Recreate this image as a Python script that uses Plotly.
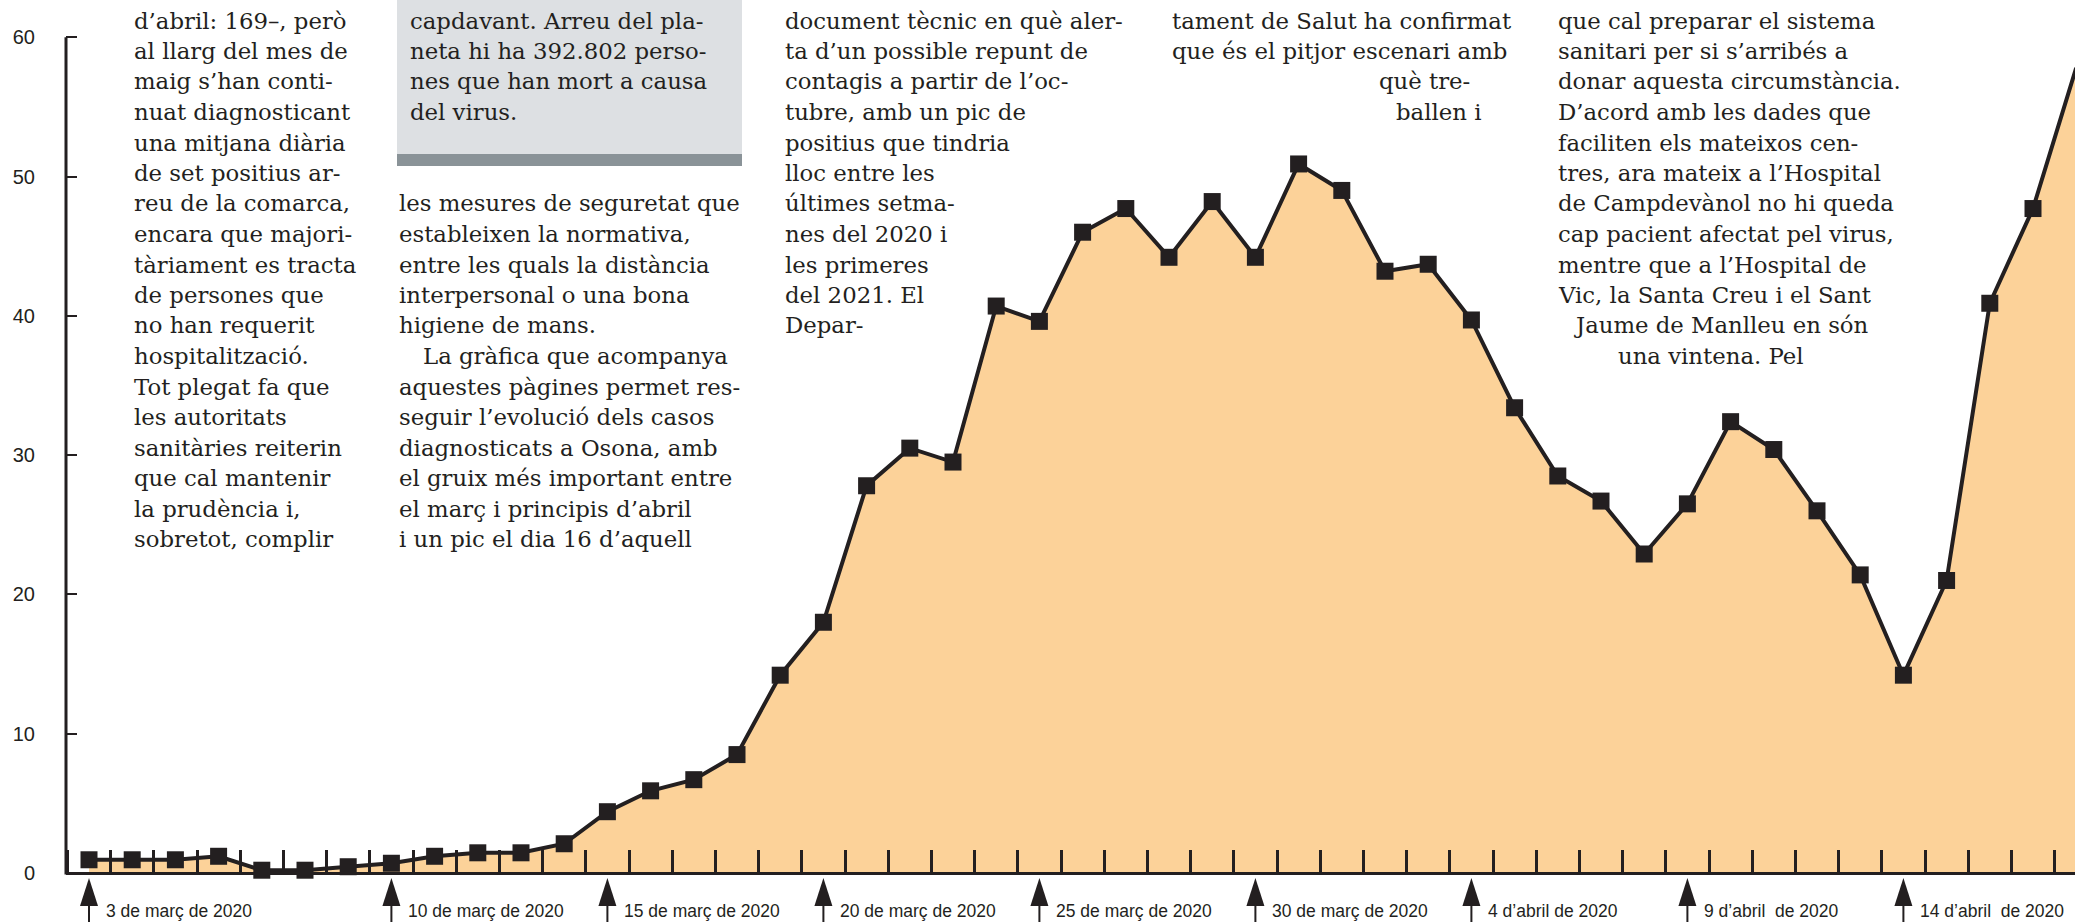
import plotly.graph_objects as go

# ---------------- data ----------------
dates = ["3 març", "4 març", "5 març", "6 març", "7 març", "8 març", "9 març", "10 març",
         "11 març", "12 març", "13 març", "14 març", "15 març", "16 març", "17 març", "18 març",
         "19 març", "20 març", "21 març", "22 març", "23 març", "24 març", "25 març", "26 març",
         "27 març", "28 març", "29 març", "30 març", "31 març", "1 abril", "2 abril", "3 abril",
         "4 abril", "5 abril", "6 abril", "7 abril", "8 abril", "9 abril", "10 abril", "11 abril",
         "12 abril", "13 abril", "14 abril", "15 abril", "16 abril", "17 abril", "18 abril"]
cases = [0.95, 0.95, 0.95, 1.2, 0.2, 0.2, 0.45, 0.7, 1.2, 1.45, 1.45, 2.1,
         4.4, 5.9, 6.7, 8.5, 14.2, 18.0, 27.8, 30.5, 29.5, 40.7, 39.6, 46.0,
         47.7, 44.2, 48.2, 44.2, 50.9, 49.0, 43.2, 43.7, 39.7, 33.4, 28.5, 26.7,
         22.9, 26.5, 32.4, 30.4, 26.0, 21.4, 14.2, 21.0, 40.9, 47.7, 57.8]
label_idx = [0, 7, 12, 17, 22, 27, 32, 37, 42]
label_text = ["3 de març de 2020", "10 de març de 2020", "15 de març de 2020",
              "20 de març de 2020", "25 de març de 2020", "30 de març de 2020",
              "4 d\u2019abril de 2020", "9 d\u2019abril&nbsp; de 2020", "14 d\u2019abril&nbsp; de 2020"]
y_ticks = [0, 10, 20, 30, 40, 50, 60]

col1 = ["d\u2019abril: 169\u2013, però", "al llarg del mes de", "maig s\u2019han conti-",
        "nuat diagnosticant", "una mitjana diària", "de set positius ar-",
        "reu de la comarca,", "encara que majori-", "tàriament es tracta",
        "de persones que", "no han requerit", "hospitalització.", "Tot plegat fa que",
        "les autoritats", "sanitàries reiterin", "que cal mantenir", "la prudència i,",
        "sobretot, complir"]
box_lines = ["capdavant. Arreu del pla-", "neta hi ha 392.802 perso-",
             "nes que han mort a causa", "del virus."]
col2 = ["les mesures de seguretat que", "estableixen la normativa,",
        "entre les quals la distància", "interpersonal o una bona", "higiene de mans.",
        "La gràfica que acompanya", "aquestes pàgines permet res-",
        "seguir l\u2019evolució dels casos", "diagnosticats a Osona, amb",
        "el gruix més important entre", "el març i principis d\u2019abril",
        "i un pic el dia 16 d\u2019aquell"]
col3 = ["document tècnic en què aler-", "ta d\u2019un possible repunt de",
        "contagis a partir de l\u2019oc-", "tubre, amb un pic de", "positius que tindria",
        "lloc entre les", "últimes setma-", "nes del 2020 i", "les primeres",
        "del 2021. El", "Depar-"]
col4 = ["tament de Salut ha confirmat", "que és el pitjor escenari amb", "què tre-", "ballen i"]
col5 = ["que cal preparar el sistema", "sanitari per si s\u2019arribés a",
        "donar aquesta circumstància.", "D\u2019acord amb les dades que",
        "faciliten els mateixos cen-", "tres, ara mateix a l\u2019Hospital",
        "de Campdevànol no hi queda", "cap pacient afectat pel virus,",
        "mentre que a l\u2019Hospital de", "Vic, la Santa Creu i el Sant",
        "Jaume de Manlleu en són", "una vintena. Pel"]

# ---------------- style / layout constants ----------------
W, H = 2075, 922
INK = "#231f20"
FILL = "#fcd299"
BOX = "#dde0e3"
BAR = "#8a9398"
SERIF = "DejaVu Serif, Liberation Serif, serif"
SANS = "Liberation Sans, Arial, sans-serif"
AXIS_PX = 66          # y-axis line, px from left
X0_PX, DX_PX = 89, 43.2   # first point and spacing in px
BASE_PX, PX_PER_UNIT = 873, 13.93

x_idx = list(range(len(cases)))
xr = [(AXIS_PX - X0_PX) / DX_PX, (W - X0_PX) / DX_PX]
yr = [-(H - BASE_PX) / PX_PER_UNIT, BASE_PX / PX_PER_UNIT]

fig = go.Figure()
fig.add_trace(go.Scatter(x=x_idx, y=cases, mode="none", fill="tozeroy",
                         fillcolor=FILL, hoverinfo="skip", showlegend=False))
fig.add_trace(go.Scatter(x=x_idx, y=cases, mode="lines+markers", cliponaxis=False,
                         line=dict(color=INK, width=4),
                         marker=dict(symbol="square", size=17, color=INK, line=dict(width=0)),
                         text=dates, hoverinfo="text+y", showlegend=False))

shapes = []
# grey box
shapes.append(dict(type="rect", xref="paper", yref="paper", x0=397 / W, x1=742 / W,
                   y0=1 - 154 / H, y1=1.05, fillcolor=BOX, line=dict(width=0), layer="below"))
shapes.append(dict(type="rect", xref="paper", yref="paper", x0=397 / W, x1=742 / W,
                   y0=1 - 166 / H, y1=1 - 154 / H, fillcolor=BAR, line=dict(width=0), layer="below"))
# y axis line
shapes.append(dict(type="line", xref="paper", yref="paper", x0=AXIS_PX / W, x1=AXIS_PX / W,
                   y0=1 - (BASE_PX + 1.5) / H, y1=1 - (BASE_PX - 60 * PX_PER_UNIT) / H,
                   line=dict(color=INK, width=3)))
# arrows under the date labels
for i in label_idx:
    shapes.append(dict(type="path", xref="x", yref="y", xsizemode="pixel", ysizemode="pixel",
                       xanchor=i, yanchor=0, path="M -9,-33 L 9,-33 L 0,-5 Z",
                       fillcolor=INK, line=dict(width=0)))
    shapes.append(dict(type="line", xref="x", yref="y", xsizemode="pixel", ysizemode="pixel",
                       xanchor=i, yanchor=0, x0=0, x1=0, y0=-30, y1=-80,
                       line=dict(color=INK, width=2)))

ann = []
for i, t in zip(label_idx, label_text):
    ann.append(dict(x=i, y=1 - 911 / H, xref="x", yref="paper", text=t, showarrow=False,
                    xanchor="left", yanchor="middle", xshift=15,
                    font=dict(family=SANS, size=17.5, color=INK)))

ROW0, ROWH = 20.5, 30.5
def add_lines(lines, x_px, k0, xoffs=None):
    for j, t in enumerate(lines):
        xo = xoffs.get(j, 0) if xoffs else 0
        ann.append(dict(x=(x_px + xo) / W, y=1 - (ROW0 + (k0 + j) * ROWH) / H,
                        xref="paper", yref="paper", text=t, showarrow=False,
                        xanchor="left", yanchor="middle",
                        font=dict(family=SERIF, size=22.8, color=INK)))

add_lines(col1, 132, 0)
add_lines(box_lines, 408, 0)
add_lines(col2, 397, 6, {5: 24})
add_lines(col3, 783, 0)
add_lines(col4, 1170, 0, {2: 207, 3: 224})
add_lines(col5, 1556, 0, {10: 16, 11: 60})

fig.update_layout(
    width=W, height=H, margin=dict(l=0, r=0, t=0, b=0),
    paper_bgcolor="white", plot_bgcolor="rgba(0,0,0,0)",
    shapes=shapes, annotations=ann, showlegend=False,
    xaxis=dict(domain=[AXIS_PX / W, 1], range=xr, anchor="free",
               position=(H - BASE_PX) / H, showgrid=False, zeroline=False,
               showline=True, linecolor=INK, linewidth=3,
               ticks="inside", tickvals=[k + 0.5 for k in range(-1, len(cases))],
               ticklen=22, tickwidth=2.5, tickcolor=INK, showticklabels=False,
               fixedrange=True),
    yaxis=dict(domain=[0, 1], range=yr, showgrid=False, zeroline=False, showline=False,
               ticks="inside", tickvals=y_ticks, ticklen=11, tickwidth=1.5, tickcolor=INK,
               ticklabelstandoff=30,
               tickfont=dict(family=SANS, size=20, color=INK), fixedrange=True),
)

fig.write_html("out.html", config={"displayModeBar": False},
               post_script="document.body.style.margin='0';")
